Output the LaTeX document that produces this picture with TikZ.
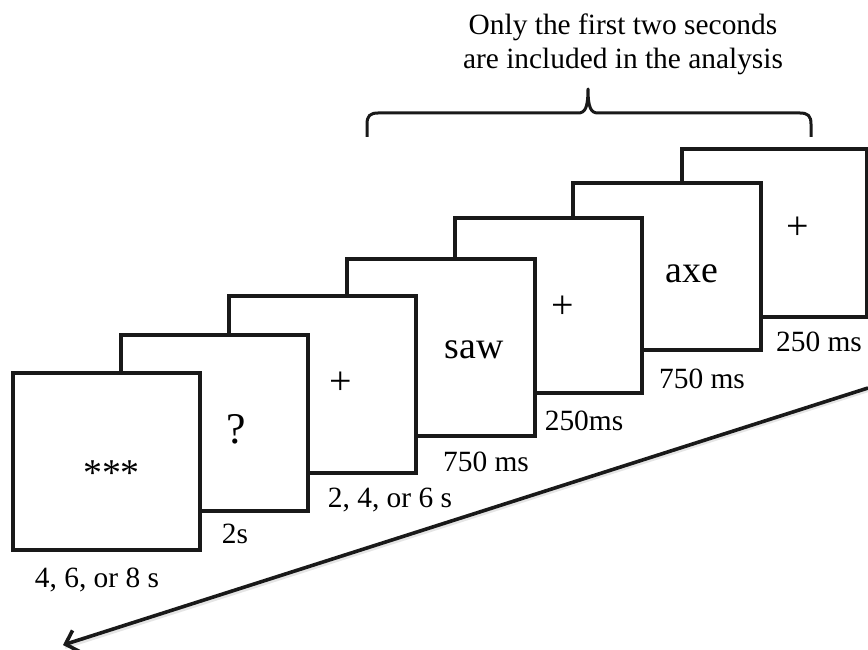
\documentclass[tikz,border=0pt]{standalone}
\usepackage{fontspec}
\setmainfont{Liberation Serif}
\usetikzlibrary{arrows.meta}
\begin{document}
\begin{tikzpicture}[x=1bp,y=-1bp,
  frame/.style={draw=black!90, fill=white, line width=3.2bp, inner sep=0pt},
  dur/.style={anchor=base, inner sep=0pt, font=\fontsize{29.5}{35}\selectfont},
  title/.style={anchor=base, inner sep=0pt, font=\fontsize{29.5}{35}\selectfont},
  word/.style={anchor=base, inner sep=0pt, font=\fontsize{38}{45}\selectfont},
  sign/.style={anchor=center, inner sep=0pt, font=\fontsize{40}{48}\selectfont},
  bracepath/.style={draw=black!90, line width=3bp, line join=round},
  timeline/.style={draw=black!90, line width=3.6bp, -{Straight Barb[length=11bp,width=22bp]}},
]
\useasboundingbox (0,0) rectangle (868,650);

% title
\node[title] (t1) at (623,35) {Only the first two seconds};
\node[title] (t2) at (623,69) {are included in the analysis};

% brace
\coordinate (bl) at (367,137);
\coordinate (br) at (811,137);
\coordinate (btip) at (588,89);
\draw[bracepath] (bl) -- (367,124) .. controls (367,116) and (370,113) .. (378,113)
  -- (578,113) .. controls (585,113) and (588,108) .. (btip)
  .. controls (588,108) and (591,113) .. (598,113)
  -- (800,113) .. controls (808,113) and (811,116) .. (811,124) -- (br);

% frames, back to front
\node[frame, minimum width=185bp, minimum height=168bp] (b7) at (774.5,233) {};
\node[sign] (c7) at (798,228) {+};
\node[frame, minimum width=188bp, minimum height=167bp] (b6) at (667,266.5) {};
\node[word] (c6) at (692,282) {axe};
\node[frame, minimum width=187bp, minimum height=175bp] (b5) at (548.5,305.5) {};
\node[sign] (c5) at (563,307) {+};
\node[frame, minimum width=188bp, minimum height=177bp] (b4) at (441,347.5) {};
\node[word] (c4) at (474,358) {saw};
\node[frame, minimum width=187bp, minimum height=177bp] (b3) at (322.5,384.5) {};
\node[sign] (c3) at (341,383) {+};
\node[frame, minimum width=187bp, minimum height=176bp] (b2) at (214.5,423) {};
\node[anchor=base, inner sep=0pt, font=\fontsize{44}{52}\selectfont] (c2) at (236,443) {?};
\node[frame, minimum width=187bp, minimum height=177bp] (b1) at (106.5,461.5) {};
\node[anchor=base, inner sep=0pt, font=\fontsize{38}{44}\selectfont] (c1) at (111.5,485) {***};

% durations
\node[dur] (l1) at (97,587) {4, 6, or 8 s};
\node[dur] (l2) at (235,543) {2s};
\node[dur] (l3) at (390,507) {2, 4, or 6 s};
\node[dur] (l4) at (486,471) {750 ms};
\node[dur] (l5) at (584,430) {250ms};
\node[dur] (l6) at (702,388) {750 ms};
\node[dur] (l7) at (819,351) {250 ms};

% time arrow
\coordinate (astart) at (868,388);
\coordinate (aend) at (63,645);
\draw[line width=3bp, black!20, opacity=0.5] (868.5,390.5) -- (65,647.5);
\draw[timeline] (astart) -- (aend);
\end{tikzpicture}
\end{document}
